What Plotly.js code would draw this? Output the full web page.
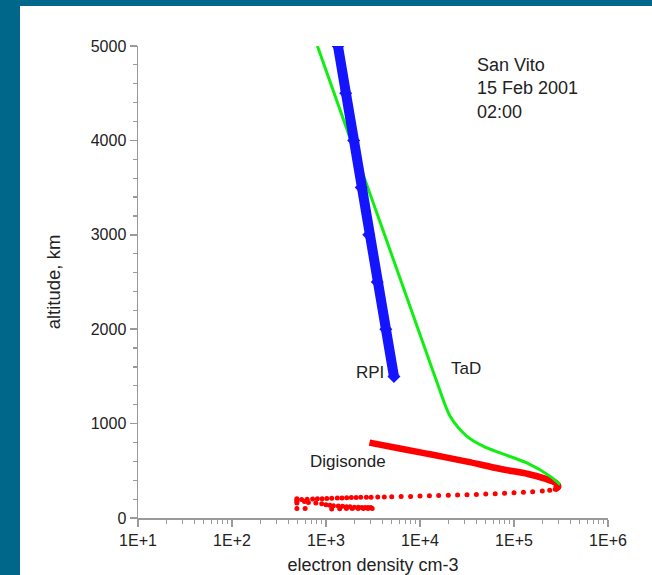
<!DOCTYPE html>
<html>
<head>
<meta charset="utf-8">
<script src="https://cdn.plot.ly/plotly-3.0.1.min.js"></script>
<style>
  html, body { margin: 0; padding: 0; background: #00668a; width: 652px; height: 575px; overflow: hidden; }
  #chart { position: absolute; left: 20px; top: 6px; width: 632px; height: 569px; background: #fff; }
</style>
</head>
<body>
<div id="chart"></div>
<script>
// TaD model profile (electron density cm-3, altitude km)
const tadDensity = [810, 1840, 4200, 9550, 14800, 21000, 31600, 47500, 71400, 137000, 243000, 310000];
const tadAltitude = [5000, 4000, 3000, 2000, 1467, 1074, 865, 759, 689, 583, 441, 353];

// RPI profile
const rpiDensity = [1340, 1620, 1970, 2370, 2850, 3510, 4330, 5280];
const rpiAltitude = [5000, 4500, 4000, 3500, 3000, 2500, 2000, 1500];

// Digisonde topside (dense, drawn as thick line)
const digiTopDensity = [2900, 6300, 14100, 31600, 72400, 141000, 209000, 282000, 295000, 270000];
const digiTopAltitude = [798, 733, 667, 597, 519, 466, 420, 367, 332, 305];

// Digisonde bottomside (dots)
const digiBotDensity = [295000, 275000, 240000, 200000, 158000, 126000, 100000, 79400, 63100, 50100, 39800, 31600, 25100, 20000, 15800, 12600, 10000, 7940, 6300, 5000, 4170, 3550,
  3020, 2690, 2340, 2090, 1860, 1660, 1480, 1320, 1150, 1020, 910, 810, 720, 630, 550, 490,
  490, 490, 490, 590, 650, 780, 900, 1000, 1100, 1200, 1350, 1500, 1650, 1800, 2000, 2200, 2400, 2600, 2800, 3000,
  490, 600, 1150, 1400, 1650, 1900, 2200, 2500, 2800, 3100];
const digiBotAltitude = [320, 305, 295, 287, 278, 272, 267, 262, 258, 254, 250, 247, 244, 241, 238, 235, 232, 229, 227, 225, 223, 222,
  221, 220, 219, 218, 216, 215, 213, 211, 209, 207, 205, 203, 200, 198, 195, 190,
  205, 175, 160, 175, 165, 160, 150, 140, 135, 130, 128, 125, 120, 118, 115, 113, 112, 110, 110, 110,
  100, 100, 95, 97, 100, 100, 100, 100, 100, 100];

const xTickVals = [10, 100, 1000, 10000, 100000, 1000000];
const xTickText = ['1E+1', '1E+2', '1E+3', '1E+4', '1E+5', '1E+6'];
const yTickVals = [0, 1000, 2000, 3000, 4000, 5000];

const FONT = 'Liberation Sans, Arial, sans-serif';
const TXT = '#222';

const traces = [
  { x: digiBotDensity, y: digiBotAltitude, mode: 'markers', type: 'scatter',
    marker: { color: '#ff0000', size: 5 }, hoverinfo: 'skip' },
  { x: digiTopDensity, y: digiTopAltitude, mode: 'lines', type: 'scatter',
    line: { color: '#ff0000', width: 6.5, shape: 'spline' }, hoverinfo: 'skip' },
  { x: tadDensity, y: tadAltitude, mode: 'lines', type: 'scatter',
    line: { color: '#11ee11', width: 3, shape: 'spline', smoothing: 0.8 }, hoverinfo: 'skip' },
  { x: rpiDensity, y: rpiAltitude, mode: 'lines+markers', type: 'scatter',
    line: { color: '#1414ff', width: 10 }, marker: { color: '#1414ff', size: 10, symbol: 'diamond' }, hoverinfo: 'skip' }
];

const axisCommon = {
  showline: true, linecolor: '#9a9a9a', linewidth: 1.5,
  ticks: 'outside', tickcolor: '#9a9a9a', tickwidth: 1.5, ticklen: 7,
  showgrid: false, zeroline: false,
  tickfont: { family: FONT, size: 16, color: TXT }
};

const layout = {
  width: 632, height: 569,
  margin: { l: 118, r: 44, t: 40, b: 57 },
  paper_bgcolor: '#ffffff', plot_bgcolor: '#ffffff',
  showlegend: false,
  font: { family: FONT, color: TXT },
  xaxis: Object.assign({}, axisCommon, {
    type: 'log', range: [1, 6],
    tickmode: 'array', tickvals: xTickVals, ticktext: xTickText,
    minor: { dtick: 'D1', ticks: 'outside', ticklen: 4, tickcolor: '#9a9a9a', tickwidth: 1.2, showgrid: false },
    title: { text: 'electron density cm-3', font: { family: FONT, size: 18, color: TXT }, standoff: 11 }
  }),
  yaxis: Object.assign({}, axisCommon, {
    range: [0, 5000],
    tickmode: 'array', tickvals: yTickVals,
    minor: { dtick: 200, ticks: 'outside', ticklen: 4, tickcolor: '#9a9a9a', tickwidth: 1.2, showgrid: false },
    title: { text: 'altitude, km', font: { family: FONT, size: 18.5, color: TXT }, standoff: 25 }
  }),
  annotations: [
    { xref: 'paper', yref: 'paper', x: 0.716, y: 0.985, xanchor: 'left', yanchor: 'top', align: 'left',
      text: 'San Vito<br>15 Feb 2001<br>02:00', showarrow: false,
      font: { family: FONT, size: 18, color: TXT } },
    { xref: 'paper', yref: 'paper', x: 0.494, y: 0.308, xanchor: 'center', yanchor: 'middle',
      text: 'RPI', showarrow: false, font: { family: FONT, size: 17, color: TXT } },
    { xref: 'paper', yref: 'paper', x: 0.697, y: 0.316, xanchor: 'center', yanchor: 'middle',
      text: 'TaD', showarrow: false, font: { family: FONT, size: 17, color: TXT } },
    { xref: 'paper', yref: 'paper', x: 0.447, y: 0.119, xanchor: 'center', yanchor: 'middle',
      text: 'Digisonde', showarrow: false, font: { family: FONT, size: 17, color: TXT } }
  ]
};

Plotly.newPlot('chart', traces, layout, { staticPlot: true, displayModeBar: false });
</script>
</body>
</html>
